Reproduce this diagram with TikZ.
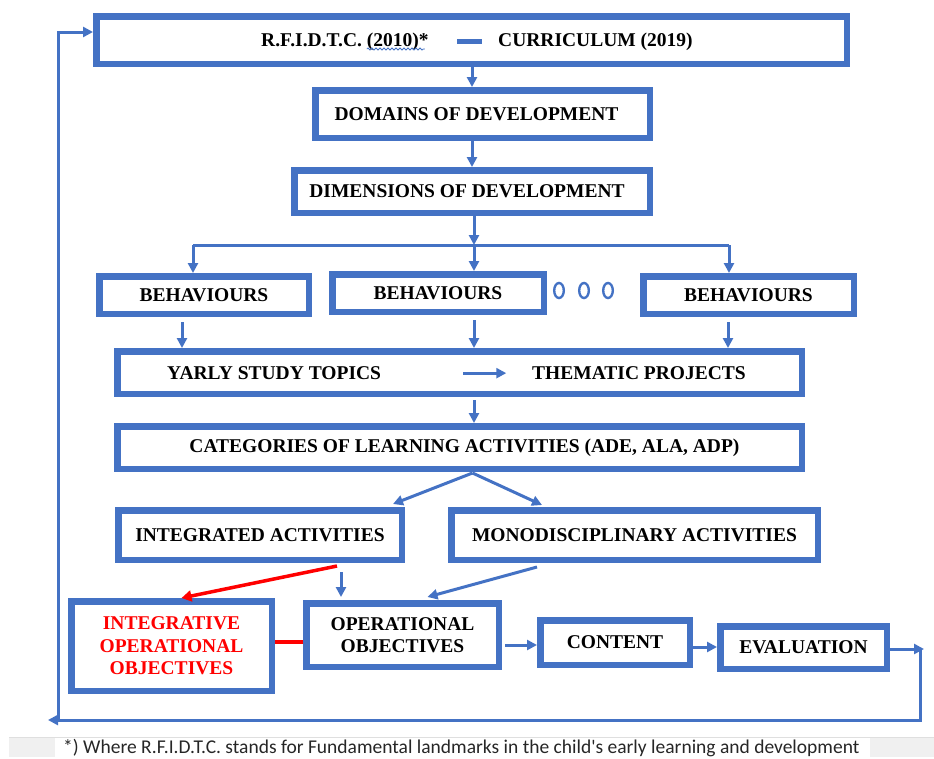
\documentclass[tikz,border=0pt]{standalone}
\usepackage{fontspec}
\setmainfont{Liberation Serif}
\newfontfamily\notefont{Carlito}
\usetikzlibrary{arrows.meta,calc,decorations.pathmorphing}
\definecolor{boxblue}{RGB}{68,114,196}
\definecolor{objred}{RGB}{255,0,0}
\begin{document}
\begin{tikzpicture}[
    x=1pt, y=-1pt,
    box/.style={draw=boxblue, line width=6.5pt, fill=white, inner sep=0pt, align=center,
      font=\bfseries\fontsize{19.5}{22.5}\selectfont},
    inline text/.style={inner sep=0pt, font=\bfseries\fontsize{19.5}{22.5}\selectfont},
    flow/.style={draw=boxblue, line width=3pt, -{Triangle[length=10pt,width=10pt]}},
    link/.style={draw=boxblue, line width=3pt},
    redflow/.style={draw=objred, line width=3.5pt, -{Triangle[length=10pt,width=11pt]}},
  ]
  \useasboundingbox (0,0) rectangle (934,758);

  \node[box, minimum width=750.5pt, minimum height=47.5pt] (top) at (471.5,40) {};
  \node[inline text, anchor=base west] (rfid) at (261,46) {R.F.I.D.T.C. (2010)*};
  \node[inline text, anchor=base west] (curric) at (498,46) {CURRICULUM (2019)};
  \draw[boxblue, line width=5pt] ($(curric.base west)+(-41,-5)$) -- ($(curric.base west)+(-16,-5)$);
  \draw[boxblue, line width=0.8pt, decorate, decoration={snake, amplitude=1pt, segment length=4pt}]
    ($(rfid.base east)+(-62,3)$) -- ++(58,0);

  \node[box, minimum width=334.5pt, minimum height=47.5pt] (domains) at (482.5,114) {DOMAINS OF DEVELOPMENT\hspace*{12pt}};
  \node[box, minimum width=355.5pt, minimum height=42.5pt] (dimen) at (472,191.5) {DIMENSIONS OF DEVELOPMENT\hspace*{10pt}};

  \node[box, minimum width=209.5pt, minimum height=37.5pt] (behA) at (204,295) {BEHAVIOURS};
  \node[box, minimum width=211.5pt, minimum height=37.5pt] (behB) at (438,293) {BEHAVIOURS};
  \node[box, minimum width=210.5pt, minimum height=37.5pt] (behC) at (748.5,295) {BEHAVIOURS};
  \foreach \cx in {559,584,608}
    \draw[boxblue, line width=2.4pt] (\cx,290.5) ellipse [x radius=4.8, y radius=7.5];

  \node[box, minimum width=684.5pt, minimum height=42.5pt] (yearly) at (459.5,372.5) {};
  \node[inline text, anchor=base west] (topics) at (167,379.5) {YARLY STUDY TOPICS};
  \node[inline text, anchor=base west] (projects) at (532,379.5) {THEMATIC PROJECTS};
  \node[box, minimum width=684.5pt, minimum height=42.5pt] (categ) at (459.5,447.5) {\hspace*{10pt}CATEGORIES OF LEARNING ACTIVITIES (ADE, ALA, ADP)};

  \node[box, minimum width=283.5pt, minimum height=49.5pt] (integ) at (260,535) {INTEGRATED ACTIVITIES};
  \node[box, minimum width=366.5pt, minimum height=49.5pt] (mono) at (634.5,535) {MONODISCIPLINARY ACTIVITIES};

  \node[box, minimum width=200.5pt, minimum height=89.5pt, text=objred] (intobj) at (171.5,646) {INTEGRATIVE\\OPERATIONAL\\OBJECTIVES};
  \node[box, minimum width=192.5pt, minimum height=63.5pt] (opobj) at (402.5,635) {OPERATIONAL\\OBJECTIVES};
  \node[box, minimum width=149.5pt, minimum height=44.5pt] (content) at (615,642.5) {CONTENT};
  \node[box, minimum width=166.5pt, minimum height=42.5pt] (eval) at (803.5,647.5) {EVALUATION};

  % top part
  \draw[flow] (top.south -| dimen) -- (domains.north -| dimen);
  \draw[flow] (domains.south -| dimen) -- (dimen.north);
  \coordinate (split) at (474,245);
  \coordinate (splitA) at (193,245);
  \coordinate (splitC) at (729,245);
  \draw[flow] (dimen.south -| split) -- (split);
  \draw[link] (splitA) -- (splitC);
  \draw[flow] (splitA) -- (splitA |- behA.north);
  \draw[flow] (split) -- (split |- behB.north);
  \draw[flow] (splitC) -- (splitC |- behC.north);
  \foreach \b/\dx in {behA/-22, behB/36, behC/-20.5}
    \draw[flow] ($(\b.south)+(\dx,5)$) coordinate (c) -- (c |- yearly.north);
  \draw[flow] ($(topics.east)+(82,0)$) -- ($(topics.east)+(125,0)$);
  \draw[flow] ($(yearly.south -| split)+(0,3)$) -- (categ.north -| split);

  % activities
  \coordinate (fork) at ($(categ.south)+(13,1)$);
  \draw[flow] (fork) -- ($(integ.north east)+(-12,-3)$);
  \draw[flow] (fork) -- ($(mono.north west)+(94,-2)$);
  \draw[redflow] ($(integ.south east)+(-68,3)$) -- ($(intobj.north)+(10,0)$);
  \draw[flow] ($(integ.south east)+(-64,9)$) -- ($(opobj.north west)+(38,-3)$);
  \draw[flow] ($(mono.south west)+(89,4)$) -- ($(opobj.north)+(25,-3)$);
  \draw[draw=objred, line width=4pt] ($(opobj.west)+(0,7)$) -- ($(intobj.east |- opobj.west)+(0,7)$);
  \draw[flow] ($(opobj.east |- content)+(3,2.5)$) -- ($(content.west)+(0,2.5)$);
  \draw[flow] ($(content.east)+(0,4.5)$) coordinate (c) -- (c -| eval.west);

  % feedback loop
  \coordinate (backR) at (920,649);
  \coordinate (backL) at (48,720);
  \coordinate (backT) at (62,32);
  \draw[flow] ($(eval.east)+(0,1.5)$) -- ($(backR)+(4,0)$);
  \draw[flow] (backR) |- (backL);
  \draw[flow] ($(backL)+(10,0)$) |- (top.west |- backT);

  % footnote
  \draw[gray!25, line width=0.6pt] (9,737) -- (934,737);
  \fill[gray!12] (9,738) rectangle (55,757);
  \fill[gray!12] (870,738) rectangle (934,757);
  \node[anchor=base west, inner sep=0pt, text=black!85, font=\notefont\fontsize{19.5}{21}\selectfont] (note) at (63,753)
    {*) Where R.F.I.D.T.C. stands for Fundamental landmarks in the child's early learning and development};
\end{tikzpicture}
\end{document}
